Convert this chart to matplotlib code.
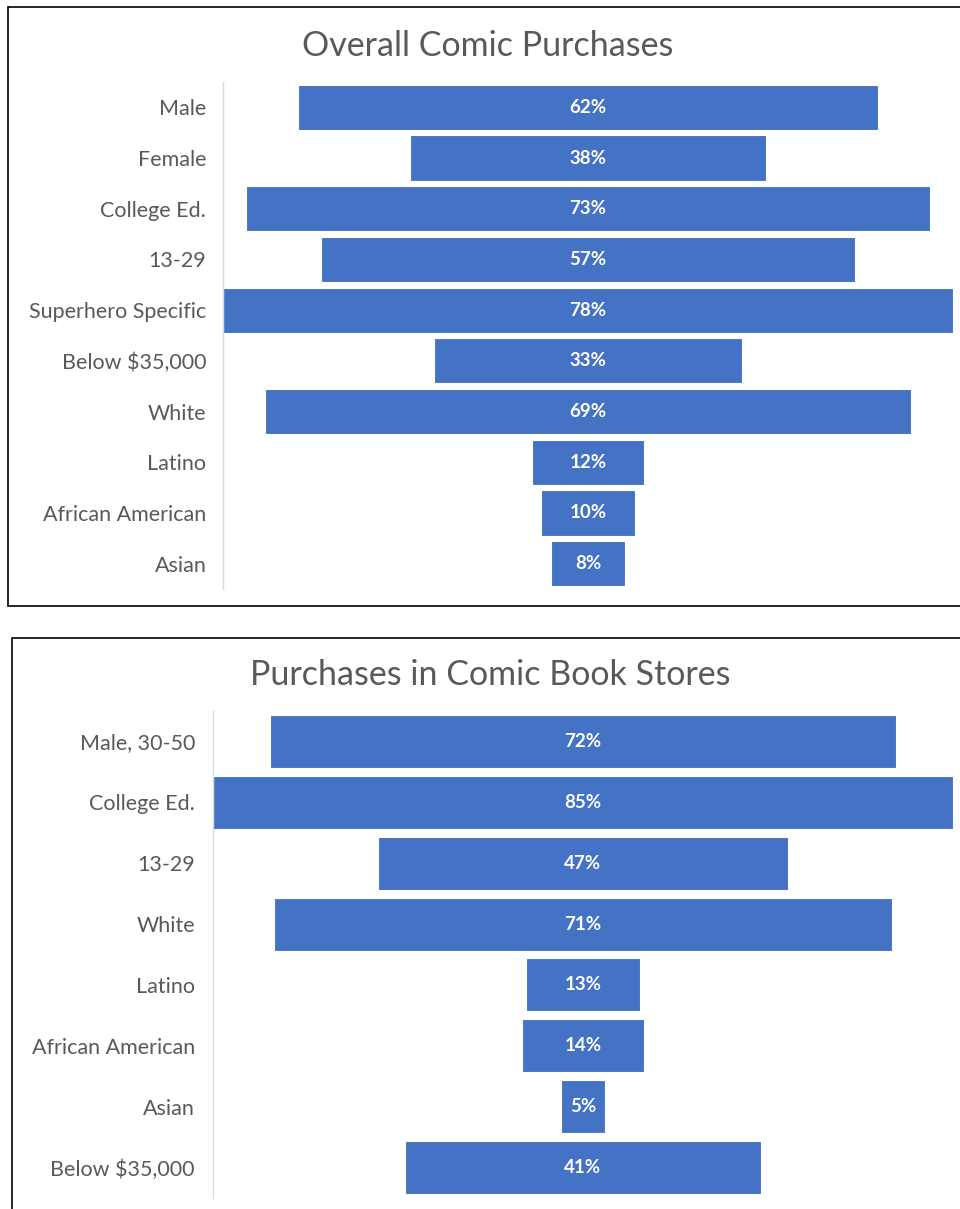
import matplotlib.pyplot as plt
from matplotlib.patches import Rectangle

# data
top_title = "Overall Comic Purchases"
top_cats = ["Male", "Female", "College Ed.", "13-29", "Superhero Specific",
            "Below $35,000", "White", "Latino", "African American", "Asian"]
top_vals = [62, 38, 73, 57, 78, 33, 69, 12, 10, 8]

bot_title = "Purchases in Comic Book Stores"
bot_cats = ["Male, 30-50", "College Ed.", "13-29", "White", "Latino",
            "African American", "Asian", "Below $35,000"]
bot_vals = [72, 85, 47, 71, 13, 14, 5, 41]

W, H = 960, 1209
BLUE = "#4472C4"
GREY = "#595959"
plt.rcParams['font.family'] = ['Lato', 'DejaVu Sans']

fig = plt.figure(figsize=(W / 100, H / 100), dpi=100)


def px_axes(x0, y0, x1, y1):
    return fig.add_axes([x0 / W, 1 - y1 / H, (x1 - x0) / W, (y1 - y0) / H])


def funnel(ax, cats, vals, height, pad):
    n = len(cats)
    ys = list(range(n))
    lefts = [-v / 2 for v in vals]
    ax.barh(ys, vals, left=lefts, height=height, color=BLUE,
            edgecolor="white", linewidth=0.8)
    for y, v in zip(ys, vals):
        ax.text(0, y, f"{v}%", ha="center", va="center", color="white",
                fontsize=13.5, fontweight="bold")
    m = max(vals) / 2
    ax.set_xlim(-m, m)
    ax.set_ylim(n - 0.5, -0.5)
    ax.set_yticks(ys)
    ax.set_yticklabels(cats, fontsize=15.5, color=GREY)
    ax.set_xticks([])
    ax.tick_params(axis="y", length=0, pad=pad)
    for s in ["top", "right", "bottom"]:
        ax.spines[s].set_visible(False)
    ax.spines["left"].set_color("#D9D9D9")
    ax.spines["left"].set_linewidth(1)


ax1 = px_axes(223, 82, 953, 589)
funnel(ax1, top_cats, top_vals, 0.89, 12)
fig.text(488 / W, 1 - 46 / H, top_title, ha="center", va="center",
         fontsize=24.5, color=GREY)

ax2 = px_axes(213, 711, 953, 1198)
funnel(ax2, bot_cats, bot_vals, 0.87, 13)
fig.text(490 / W, 1 - 675 / H, bot_title, ha="center", va="center",
         fontsize=24.5, color=GREY)

# frames around both charts
for (x0, y0, x1, y1) in [(8, 7, 961, 606), (12, 638, 961, 1210)]:
    fig.patches.append(Rectangle((x0 / W, 1 - y1 / H), (x1 - x0) / W,
                                 (y1 - y0) / H, transform=fig.transFigure,
                                 fill=False, edgecolor="black", linewidth=1.2))

plt.savefig("out.png", dpi=100)
